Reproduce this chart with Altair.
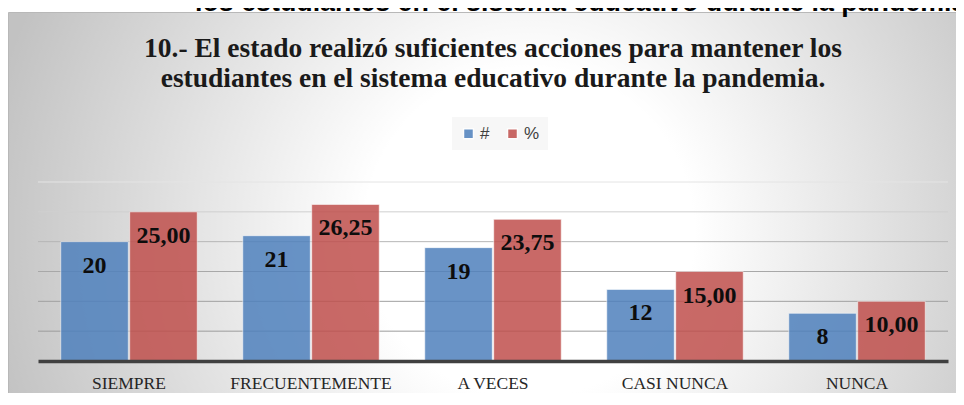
import altair as alt
import pandas as pd

# ---- data ----
categories = ["SIEMPRE", "FRECUENTEMENTE", "A VECES", "CASI NUNCA", "NUNCA"]
counts = [20, 21, 19, 12, 8]
percents = [25.00, 26.25, 23.75, 15.00, 10.00]
series = ["#", "%"]
grid_values = [5, 10, 15, 20, 25, 30]
title_lines = [
    "10.- El estado realizó suficientes acciones para mantener los",
    "estudiantes en el sistema educativo durante la pandemia.",
]
top_text = "los estudiantes en el sistema educativo durante la pandemia."

# ---- styles ----
series_colors = ["#4F81BD", "#C0504D"]
grid_colors = ["#9c9c9c", "#a0a0a0", "#a8a8a8", "#b6b6b6", "#cfcfcf", "#e4e4e4"]

rows = []
for c, n, p in zip(categories, counts, percents):
    rows.append({"cat": c, "series": "#", "value": n, "label": f"{n}"})
    rows.append({"cat": c, "series": "%", "value": p,
                 "label": f"{p:.2f}".replace(".", ",")})
df = pd.DataFrame(rows)

x_enc = alt.X(
    "cat:N", sort=categories,
    scale=alt.Scale(paddingInner=0.25, paddingOuter=0.125),
    axis=alt.Axis(
        title=None, labelAngle=0, ticks=False, tickSize=0, grid=False,
        labelFont="Liberation Serif", labelFontSize=17.5, labelColor="#262626",
        labelPadding=27, labelBaseline="alphabetic",
        domainColor="#404040", domainWidth=3.5, zindex=1,
    ),
)
xoff_enc = alt.XOffset("series:N", sort=series, scale=alt.Scale(paddingInner=0.02))
y_enc = alt.Y("value:Q", scale=alt.Scale(domain=[0, 30], nice=False), axis=None)

gradient = alt.RadialGradient(
    gradient="radial",
    stops=[
        alt.GradientStop(color="#ffffff", offset=0),
        alt.GradientStop(color="#ffffff", offset=0.3),
        alt.GradientStop(color="#c2c2c2", offset=1),
    ],
    x1=0.54, y1=0.42, x2=0.54, y2=0.42, r1=0, r2=0.57,
)

bg = alt.Chart(pd.DataFrame({"k": [0]})).mark_rect(
    fill=gradient, stroke="#b8b8b8", strokeWidth=1
).encode(
    x=alt.value(-29.5), x2=alt.value(935), y=alt.value(-169.5), y2=alt.value(426)
)

grid = alt.Chart(pd.DataFrame({"g": grid_values})).mark_rule(strokeWidth=1).encode(
    y=alt.Y("g:Q", axis=None),
    stroke=alt.Stroke("g:O", scale=alt.Scale(domain=grid_values, range=grid_colors),
                      legend=None),
)

bars = alt.Chart(df).mark_bar(
    opacity=0.85, stroke="#ffffff", strokeWidth=1, strokeOpacity=0.6
).encode(
    x=x_enc,
    xOffset=xoff_enc,
    y=y_enc,
    color=alt.Color(
        "series:N",
        scale=alt.Scale(domain=series, range=series_colors),
        legend=alt.Legend(
            title=None, orient="none", legendX=414, legendY=-65,
            direction="horizontal", symbolType="square", symbolSize=100,
            labelFont="Liberation Sans", labelFontSize=17, labelColor="#404040",
            labelOffset=3, columnPadding=14, padding=8, fillColor="#f7f7f7",
            zindex=1,
        ),
    ),
)

labels = alt.Chart(df).mark_text(
    font="Liberation Serif", fontWeight="bold", fontSize=24,
    baseline="middle", dy=24, color="#0d0d0d",
).encode(x=x_enc, xOffset=xoff_enc, y=y_enc, text="label:N")

title1 = alt.Chart(pd.DataFrame({"t": [title_lines[0]]})).mark_text(
    font="Liberation Serif", fontWeight="bold", fontSize=27.5,
    align="center", baseline="alphabetic", color="#1a1a1a",
).encode(x=alt.value(455), y=alt.value(-125), text="t:N")

title2 = alt.Chart(pd.DataFrame({"t": [title_lines[1]]})).mark_text(
    font="Liberation Serif", fontWeight="bold", fontSize=27.5,
    align="center", baseline="alphabetic", color="#1a1a1a",
).encode(x=alt.value(455), y=alt.value(-95), text="t:N")

top = alt.Chart(pd.DataFrame({"t": [top_text]})).mark_text(
    font="Liberation Sans", fontWeight="bold", fontSize=26.8,
    align="left", baseline="alphabetic", color="#000000",
).encode(x=alt.value(157), y=alt.value(-171), text="t:N")

chart = alt.layer(bg, grid, bars, labels, title1, title2, top).properties(
    width=910, height=179,
    autosize=alt.AutoSizeParams(type="none"),
    padding={"left": 30, "top": 174, "right": 8, "bottom": 32},
).configure_view(stroke=None)

chart.save("out.html", embed_options={"renderer": "svg", "actions": False})
